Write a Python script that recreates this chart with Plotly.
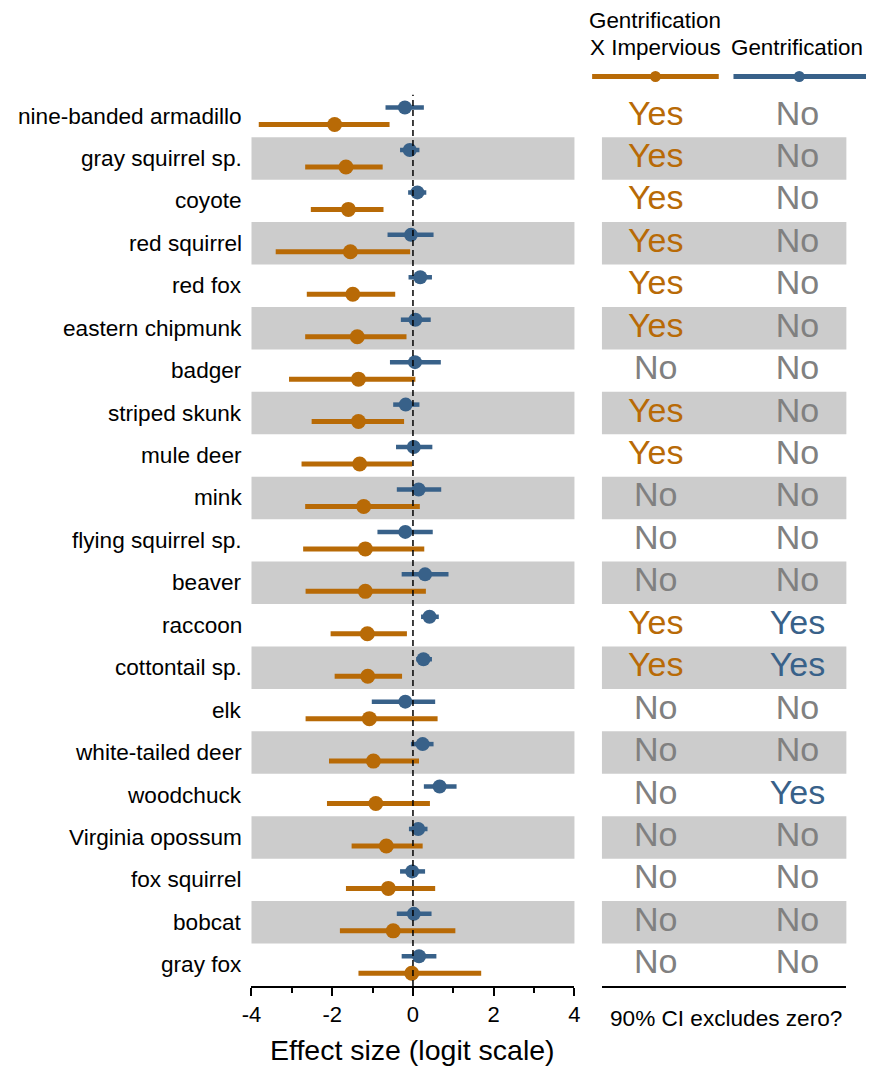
import plotly.graph_objects as go

species = ["nine-banded armadillo", "gray squirrel sp.", "coyote", "red squirrel", "red fox",
           "eastern chipmunk", "badger", "striped skunk", "mule deer", "mink",
           "flying squirrel sp.", "beaver", "raccoon", "cottontail sp.", "elk",
           "white-tailed deer", "woodchuck", "Virginia opossum", "fox squirrel", "bobcat", "gray fox"]

# Gentrification X Impervious (orange)
gi_est = [-1.94, -1.66, -1.60, -1.55, -1.49, -1.38, -1.35, -1.35, -1.32, -1.22,
          -1.18, -1.18, -1.13, -1.12, -1.08, -0.98, -0.92, -0.66, -0.61, -0.49, -0.03]
gi_lo = [-3.82, -2.67, -2.53, -3.40, -2.63, -2.67, -3.07, -2.51, -2.76, -2.67,
         -2.72, -2.66, -2.04, -1.94, -2.66, -2.08, -2.13, -1.52, -1.66, -1.81, -1.35]
gi_hi = [-0.58, -0.75, -0.73, -0.07, -0.44, -0.16, 0.06, -0.22, -0.02, 0.17,
         0.28, 0.32, -0.15, -0.27, 0.61, 0.15, 0.42, 0.24, 0.55, 1.05, 1.69]

# Gentrification (blue)
g_est = [-0.20, -0.08, 0.11, -0.05, 0.18, 0.06, 0.05, -0.18, 0.02, 0.14,
         -0.19, 0.30, 0.41, 0.26, -0.19, 0.24, 0.66, 0.13, -0.02, 0.02, 0.15]
g_lo = [-0.68, -0.32, -0.12, -0.63, -0.11, -0.30, -0.57, -0.49, -0.42, -0.40,
        -0.88, -0.28, 0.20, 0.08, -1.02, -0.05, 0.27, -0.10, -0.32, -0.40, -0.28]
g_hi = [0.27, 0.16, 0.33, 0.51, 0.47, 0.44, 0.69, 0.16, 0.48, 0.70,
        0.49, 0.88, 0.64, 0.47, 0.55, 0.51, 1.08, 0.36, 0.30, 0.46, 0.58]

gi_sig = ["Yes", "Yes", "Yes", "Yes", "Yes", "Yes", "No", "Yes", "Yes", "No",
          "No", "No", "Yes", "Yes", "No", "No", "No", "No", "No", "No", "No"]
g_sig = ["No", "No", "No", "No", "No", "No", "No", "No", "No", "No",
         "No", "No", "Yes", "Yes", "No", "No", "Yes", "No", "No", "No", "No"]

x_ticks = [-4, -2, 0, 2, 4]
col_header1 = ["Gentrification", "X Impervious"]
col_header2 = "Gentrification"

ORANGE = "#b86a06"
BLUE = "#386189"
GREY_TXT = "#808080"
BAND = "#cccccc"

W, H = 872, 1068
def px(x):
    return x / W
def py(y):
    return 1 - y / H

rows = list(range(len(species)))
OFF = 0.2

fig = go.Figure()

def seg(lo, hi, yv):
    xs, ys = [], []
    for a, b, y in zip(lo, hi, yv):
        xs += [a, b, None]
        ys += [y, y, None]
    return xs, ys

y_or = [r + OFF for r in rows]
y_bl = [r - OFF for r in rows]

xs, ys = seg(gi_lo, gi_hi, y_or)
fig.add_trace(go.Scatter(x=xs, y=ys, mode="lines", line=dict(color=ORANGE, width=5),
                         xaxis="x", yaxis="y", hoverinfo="skip"))
fig.add_trace(go.Scatter(x=gi_est, y=y_or, mode="markers", marker=dict(color=ORANGE, size=15),
                         xaxis="x", yaxis="y"))
xs, ys = seg(g_lo, g_hi, y_bl)
fig.add_trace(go.Scatter(x=xs, y=ys, mode="lines", line=dict(color=BLUE, width=4.5),
                         xaxis="x", yaxis="y", hoverinfo="skip"))
fig.add_trace(go.Scatter(x=g_est, y=y_bl, mode="markers", marker=dict(color=BLUE, size=14),
                         xaxis="x", yaxis="y"))

FONT = "Liberation Sans, Arial, sans-serif"

# Right table
col_x = [0.22, 0.80]
for cx, sig, col in [(col_x[0], gi_sig, ORANGE), (col_x[1], g_sig, BLUE)]:
    fig.add_trace(go.Scatter(
        x=[cx] * len(rows), y=rows, mode="text", text=sig,
        textfont=dict(size=34, color=[col if s == "Yes" else GREY_TXT for s in sig], family=FONT),
        textposition="middle center", xaxis="x2", yaxis="y2", hoverinfo="skip"))

shapes = []
for r in rows:
    if r % 2 == 1:
        for xr, yr in [("x domain", "y"), ("x2 domain", "y2")]:
            shapes.append(dict(type="rect", xref=xr, yref=yr, x0=0, x1=1, y0=r - 0.5, y1=r + 0.5,
                               fillcolor=BAND, line=dict(width=0), layer="below"))
# zero line
shapes.append(dict(type="line", xref="x", yref="y domain", x0=0, x1=0, y0=0, y1=1,
                   line=dict(color="black", width=1.5, dash="6px,4px")))

# legend symbols in header
leg = [(593, 722, 657.5, ORANGE), (737, 872, 804, BLUE)]
for x0, x1, xc, col in leg:
    shapes.append(dict(type="line", xref="paper", yref="paper", x0=px(x0), x1=px(x1),
                       y0=py(76.5), y1=py(76.5), line=dict(color=col, width=5)))
    r = 5.5
    shapes.append(dict(type="circle", xref="paper", yref="paper", x0=px(xc - r), x1=px(xc + r),
                       y0=py(76.5 + r), y1=py(76.5 - r), fillcolor=col, line=dict(width=0)))

annotations = []
for name, r in zip(species, rows):
    annotations.append(dict(x=px(238), y=r, xref="paper", yref="y", text=name, showarrow=False,
                             xanchor="right", yanchor="middle", font=dict(size=22.6, color="black", family=FONT)))
annotations.append(dict(x=px(657.5), y=py(21), xref="paper", yref="paper", text=col_header1[0],
                        showarrow=False, xanchor="center", yanchor="middle",
                        font=dict(size=22.4, color="black", family=FONT)))
annotations.append(dict(x=px(657.5), y=py(47), xref="paper", yref="paper", text=col_header1[1],
                        showarrow=False, xanchor="center", yanchor="middle",
                        font=dict(size=22.4, color="black", family=FONT)))
annotations.append(dict(x=px(801.5), y=py(47), xref="paper", yref="paper", text=col_header2,
                        showarrow=False, xanchor="center", yanchor="middle",
                        font=dict(size=22.4, color="black", family=FONT)))
annotations.append(dict(x=px(410.5), y=py(1050), xref="paper", yref="paper", text="Effect size (logit scale)",
                        showarrow=False, xanchor="center", yanchor="middle",
                        font=dict(size=28.5, color="black", family=FONT)))
annotations.append(dict(x=px(729.5), y=py(1018), xref="paper", yref="paper", text="90% CI excludes zero?",
                        showarrow=False, xanchor="center", yanchor="middle",
                        font=dict(size=22.6, color="black", family=FONT)))

ydom = [py(986), py(94.8)]
fig.update_layout(
    width=W, height=H, margin=dict(l=0, r=0, t=0, b=0),
    paper_bgcolor="white", plot_bgcolor="rgba(0,0,0,0)", showlegend=False,
    font=dict(family=FONT, color="black"),
    xaxis=dict(domain=[px(246), px(575)], range=[-4, 4], tickvals=x_ticks,
               ticktext=[str(v) for v in x_ticks], ticks="outside", ticklen=8, tickwidth=1.5,
               tickcolor="black", showline=True, linecolor="black", linewidth=1.5,
               showgrid=False, zeroline=False, tickfont=dict(size=22, color="black"),
               minor=dict(ticks="outside", ticklen=5, dtick=1, tickcolor="black", tickwidth=1.5, showgrid=False),
               anchor="y", fixedrange=True),
    yaxis=dict(domain=ydom, range=[20.5, -0.5], showticklabels=False, showgrid=False,
               zeroline=False, showline=False, ticks="", anchor="x", fixedrange=True),
    xaxis2=dict(domain=[px(603), px(852)], range=[0, 1], showticklabels=False, ticks="",
                showline=True, linecolor="black", linewidth=1.5, showgrid=False, zeroline=False,
                anchor="y2", fixedrange=True),
    yaxis2=dict(domain=ydom, range=[20.5, -0.5], showticklabels=False, showgrid=False,
                zeroline=False, showline=False, ticks="", anchor="x2", fixedrange=True),
    shapes=shapes, annotations=annotations,
)

# remove the default page margin so the 872x1068 figure fills the window exactly
fig.write_html("out.html", config={"displayModeBar": False},
               post_script="document.body.style.margin='0';document.body.style.overflow='hidden';")
